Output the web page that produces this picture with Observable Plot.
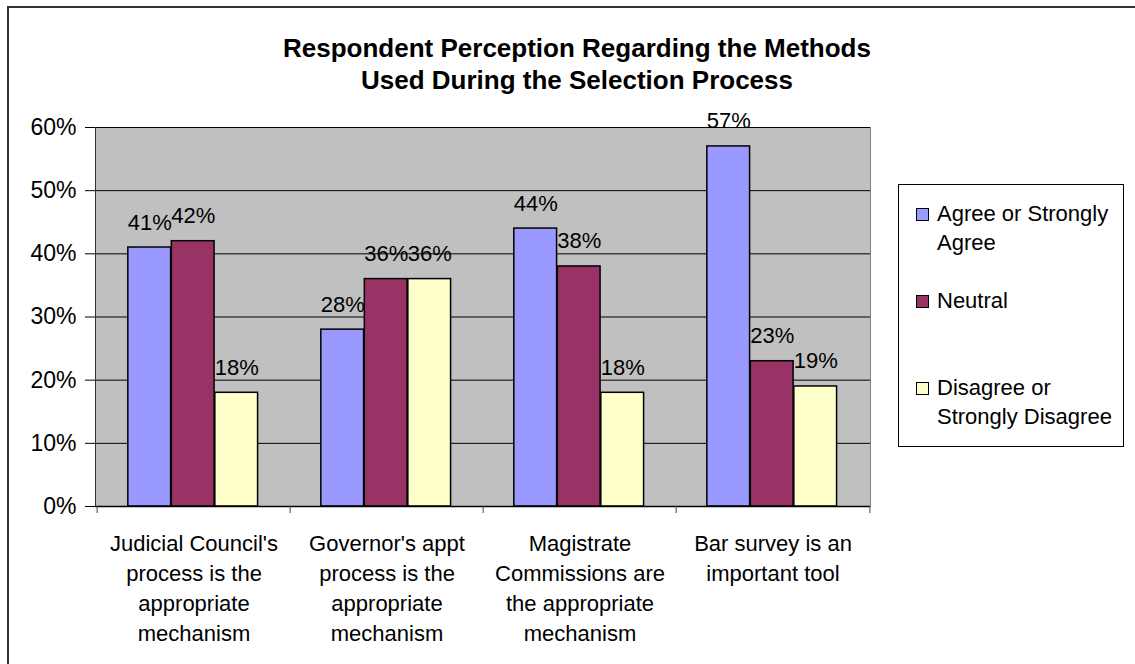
<!DOCTYPE html>
<html>
<head>
<meta charset="utf-8">
<script src="https://cdn.jsdelivr.net/npm/d3@7"></script>
<script src="https://cdn.jsdelivr.net/npm/@observablehq/plot@0.6"></script>
<style>
  html, body { margin: 0; padding: 0; background: #fff; }
  body { width: 1135px; height: 664px; position: relative; overflow: hidden;
         font-family: "Liberation Sans", Arial, sans-serif; color: #000; }
  #border { position: absolute; left: 7px; top: 6px; width: 1300px; height: 800px;
            border-top: 2px solid #333; border-left: 2px solid #333; }
  #title { position: absolute; left: 0; top: 32px; width: 1154px; text-align: center;
           font-weight: bold; font-size: 26px; line-height: 32px; }
  #chart { position: absolute; left: 0; top: 100px; }
  #chart svg { overflow: visible; background: transparent; }
  #legend { position: absolute; left: 898px; top: 184px; width: 226px; height: 263px;
            border: 1px solid #000; background: #fff; box-sizing: border-box; }
  .item { position: absolute; left: 17px; display: flex; align-items: flex-start;
          font-size: 22px; line-height: 29px; }
  .sw { width: 11px; height: 11px; border: 1px solid #000; margin-top: 9px; margin-right: 8px; flex: none; }
</style>
</head>
<body>
<div id="border"></div>
<div id="title">Respondent Perception Regarding the Methods<br>Used During the Selection Process</div>
<div id="chart"></div>
<div id="legend"></div>
<script>
// ---- data ----
const categories = [
  "Judicial Council's process is the appropriate mechanism",
  "Governor's appt process is the appropriate mechanism",
  "Magistrate Commissions are the appropriate mechanism",
  "Bar survey is an important tool"
];
const tickLabels = [
  "Judicial Council's\nprocess is the\nappropriate\nmechanism",
  "Governor's appt\nprocess is the\nappropriate\nmechanism",
  "Magistrate\nCommissions are\nthe appropriate\nmechanism",
  "Bar survey is an\nimportant tool"
];
const seriesNames = ["Agree or Strongly Agree", "Neutral", "Disagree or Strongly Disagree"];
const legendLabels = ["Agree or Strongly<br>Agree", "Neutral", "Disagree or<br>Strongly Disagree"];
const agree = [0.41, 0.28, 0.44, 0.57];
const neutral = [0.42, 0.36, 0.38, 0.23];
const disagree = [0.18, 0.36, 0.18, 0.19];
const yTicks = [0, 0.1, 0.2, 0.3, 0.4, 0.5, 0.6];
const colors = ["#9999FF", "#993366", "#FFFFCC"];

// ---- layout ----
const W = 1135, H = 564;
const mL = 95, mR = 265, mT = 27, mB = 158;
const bw = (W - mL - mR) / categories.length;
const barW = 43.5;
const pad = (bw - 3 * barW) / 2 - 0.8;
const plotH = H - mT - mB;

const seriesValues = [agree, neutral, disagree];
const tables = seriesValues.map((vals, s) =>
  categories.map((c, i) => ({category: c, series: seriesNames[s], value: vals[i]})));
const labelOf = new Map(categories.map((c, i) => [c, tickLabels[i]]));

const marks = [
  Plot.frame({fill: "#C0C0C0", stroke: "#808080"}),
  Plot.gridY(yTicks, {stroke: "#000", strokeOpacity: 1, strokeWidth: 1}),
  Plot.frame({anchor: "left", stroke: "#333"})
];
tables.forEach((t, s) => {
  const left = pad + s * barW;
  const right = bw - left - barW;
  marks.push(Plot.barY(t, {
    x: "category", y: "value", fill: colors[s], stroke: "#000", strokeWidth: 1.5,
    insetLeft: left, insetRight: right
  }));
  marks.push(Plot.text(t, {
    x: "category", y: "value", text: d => d3.format(".0%")(d.value),
    dx: left + barW / 2 - bw / 2, dy: -18, lineAnchor: "bottom",
    fontSize: 22, fill: "#000"
  }));
});
marks.push(
  Plot.ruleY([0], {stroke: "#000", strokeWidth: 1.5}),
  Plot.ruleX(categories, {x: d => d, dx: -bw / 2, insetTop: plotH, insetBottom: -7, stroke: "#444"}),
  Plot.ruleX(categories.slice(-1), {x: d => d, dx: bw / 2, insetTop: plotH, insetBottom: -7, stroke: "#444"}),
  Plot.axisY({ticks: yTicks, tickFormat: d3.format(".0%"), tickSize: 10, tickPadding: 9,
              fontSize: 23, stroke: "#000"}),
  Plot.axisX({tickSize: 0, tickPadding: 23, tickFormat: d => labelOf.get(d),
              fontSize: 22, lineHeight: 1.36, textAnchor: "middle"})
);

const chart = Plot.plot({
  width: W, height: H,
  marginLeft: mL, marginRight: mR, marginTop: mT, marginBottom: mB,
  style: {fontFamily: "'Liberation Sans', Arial, sans-serif", color: "#000", background: "transparent"},
  x: {type: "band", domain: categories, padding: 0, label: null},
  y: {domain: [0, 0.6], label: null},
  marks
});
document.getElementById("chart").appendChild(chart);

// ---- legend ----
const tops = [14, 101, 188];
const legend = document.getElementById("legend");
seriesNames.forEach((name, i) => {
  const item = document.createElement("div");
  item.className = "item";
  item.style.top = tops[i] + "px";
  item.innerHTML = `<div class="sw" style="background:${colors[i]}"></div><div>${legendLabels[i]}</div>`;
  legend.appendChild(item);
});
</script>
</body>
</html>
